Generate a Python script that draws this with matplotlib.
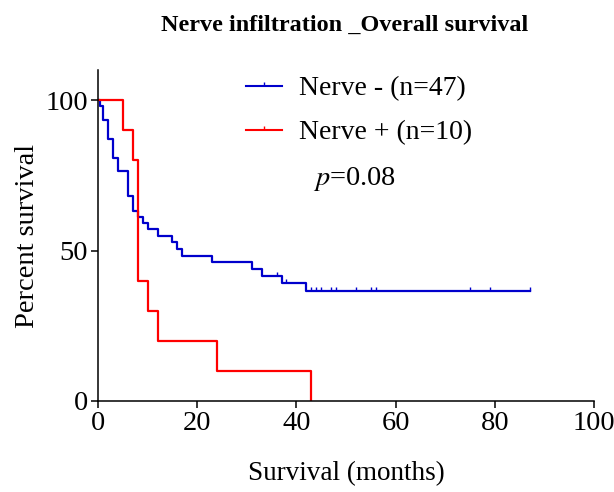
import matplotlib
matplotlib.use("Agg")
import matplotlib.pyplot as plt
from matplotlib.lines import Line2D

plt.rcParams["font.family"] = ["Liberation Serif", "DejaVu Serif"]
plt.rcParams["mathtext.fontset"] = "stix"

# Nerve - (n=47): step times (months) and survival (%)
neg_times = [0, 0.5, 1, 2, 3, 4, 6, 7, 8, 9, 10, 12, 15, 16, 17, 23, 31, 33, 37, 42, 87]
neg_surv = [100, 98, 93.5, 87, 80.7, 76.3, 68, 63.3, 61.3, 59.2, 57, 55, 52.8, 50.5,
            48.3, 46.2, 43.9, 41.6, 39.2, 36.4, 36.4]
neg_cens_t = [36, 38, 43, 44, 45, 47, 48, 52, 55, 56, 75, 79, 87]
neg_cens_s = [41.6, 39.2, 36.4, 36.4, 36.4, 36.4, 36.4, 36.4, 36.4, 36.4, 36.4, 36.4, 36.4]

# Nerve + (n=10)
pos_times = [0, 5, 7, 8, 10, 12, 24, 43]
pos_surv = [100, 90, 80, 40, 30, 20, 10, 0]

blue = "#0000cc"
red = "#ff0000"
tick_mark = [(0, 0), (0, 1)]

fig = plt.figure(figsize=(6.14, 4.92), dpi=100)
ax = fig.add_axes([98 / 614, 91 / 492, 496 / 614, 331 / 492])

ax.step(neg_times, neg_surv, where="post", color=blue, lw=1.6)
ax.plot(neg_cens_t, neg_cens_s, ls="none", marker=tick_mark, ms=6, mew=1.0, color=blue)
ax.step(pos_times, pos_surv, where="post", color=red, lw=1.6)

ax.set_xlim(0, 100)
ax.set_ylim(0, 110)
ax.set_xticks([0, 20, 40, 60, 80, 100])
ax.set_yticks([0, 50, 100])
for s in ["top", "right"]:
    ax.spines[s].set_visible(False)
for s in ["left", "bottom"]:
    ax.spines[s].set_linewidth(1.1)
ax.tick_params(labelsize=20.5, length=5, width=1.1, pad=2)
ax.spines["left"].set_bounds(0, 110)

ax.set_xlabel("Survival (months)", fontsize=19.5, labelpad=18)
ax.set_ylabel("Percent survival", fontsize=20.5, labelpad=4)
fig.text(345 / 614, 1 - 31 / 492, "Nerve infiltration _Overall survival",
         fontsize=17.5, fontweight="bold", ha="center", va="baseline")

handles = [
    Line2D([], [], color=blue, lw=1.5, marker=tick_mark, ms=6, mew=1.0),
    Line2D([], [], color=red, lw=1.5, marker=tick_mark, ms=6, mew=1.0),
]
fig.legend(handles, ["Nerve - (n=47)", "Nerve + (n=10)"], loc="upper left",
           bbox_to_anchor=(246 / 614, 1 - 76 / 492), frameon=False, fontsize=20,
           handlelength=1.3, handletextpad=0.6, labelspacing=0.66,
           borderpad=0, borderaxespad=0, numpoints=1)
fig.text(313 / 614, 1 - 185 / 492, "$p$=0.08", fontsize=20.4, va="baseline")

fig.savefig("out.png", dpi=100)
